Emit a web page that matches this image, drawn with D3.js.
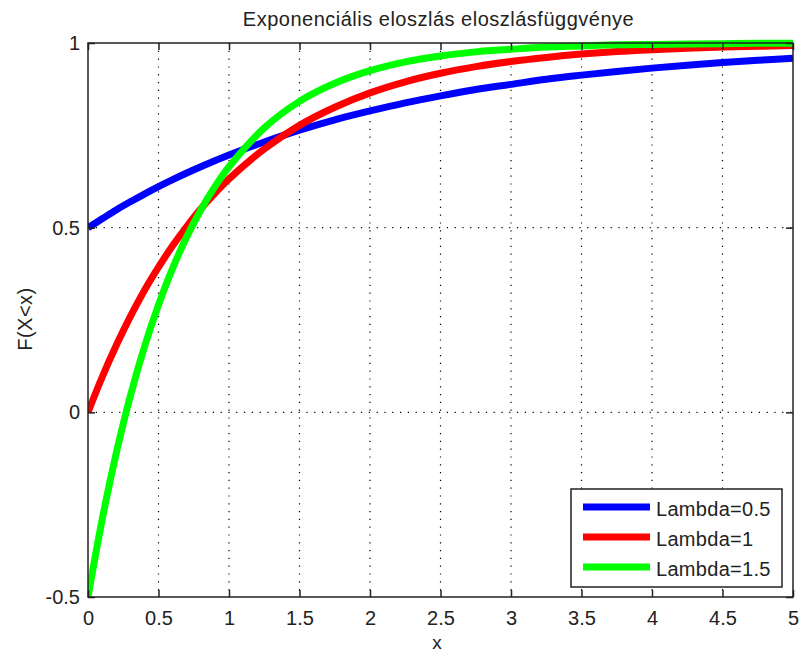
<!DOCTYPE html>
<html>
<head>
<meta charset="utf-8">
<script src="https://cdn.jsdelivr.net/npm/d3@7"></script>
<style>
  html, body { margin: 0; padding: 0; background: #fff; }
  svg { display: block; }
  text { font-family: "Liberation Sans", Arial, sans-serif; fill: #222; }
</style>
</head>
<body>
<svg id="chart" width="799" height="652"></svg>
<script>
// Sample points of the three CDF curves
const xs = [0, 0.1, 0.2, 0.3, 0.4, 0.5, 0.6, 0.7, 0.8, 0.9, 1,
            1.25, 1.5, 1.75, 2, 2.25, 2.5, 2.75, 3, 3.25, 3.5, 3.75, 4, 4.25, 4.5, 4.75, 5];
const lambda05 = [0.5, 0.524, 0.548, 0.570, 0.591, 0.611, 0.630, 0.648, 0.665, 0.681, 0.697,
                  0.732, 0.764, 0.792, 0.816, 0.838, 0.857, 0.874, 0.888, 0.902, 0.913, 0.923, 0.932, 0.940, 0.947, 0.953, 0.959];
const lambda1  = [0, 0.095, 0.181, 0.259, 0.330, 0.393, 0.451, 0.503, 0.551, 0.593, 0.632,
                  0.713, 0.777, 0.826, 0.865, 0.895, 0.918, 0.936, 0.950, 0.961, 0.970, 0.977, 0.982, 0.986, 0.989, 0.991, 0.993];
const lambda15 = [-0.5, -0.291, -0.111, 0.044, 0.177, 0.291, 0.390, 0.475, 0.548, 0.611, 0.665,
                  0.770, 0.842, 0.891, 0.925, 0.949, 0.965, 0.976, 0.983, 0.989, 0.992, 0.995, 0.996, 0.997, 0.998, 0.999, 0.999];

const seriesNames = ["Lambda=0.5", "Lambda=1", "Lambda=1.5"];
const seriesColors = ["#0000ff", "#ff0000", "#00ff00"];
const seriesValues = [lambda05, lambda1, lambda15];

const xTicks = [0, 0.5, 1, 1.5, 2, 2.5, 3, 3.5, 4, 4.5, 5];
const yTicks = [-0.5, 0, 0.5, 1];

const titleText = "Exponenciális eloszlás eloszlásfüggvénye";
const xLabel = "x";
const yLabel = "F(X<x)";

const svg = d3.select("#chart");
const pLeft = 88, pRight = 793, pTop = 43, pBottom = 597;

const x = d3.scaleLinear().domain([0, 5]).range([pLeft, pRight]);
const y = d3.scaleLinear().domain([-0.5, 1]).range([pBottom, pTop]);

// Plain hyphen for negatives, no trailing zeros
const fmt = d => String(d);

// Dotted grid
const grid = svg.append("g").attr("stroke", "#000").attr("stroke-width", 1.2)
  .attr("stroke-dasharray", "1.2,6.6");
grid.selectAll("line.gx").data(xTicks.slice(1, -1)).join("line").attr("class", "gx")
  .attr("x1", d => x(d)).attr("x2", d => x(d)).attr("y1", pTop).attr("y2", pBottom);
grid.selectAll("line.gy").data(yTicks.slice(1, -1)).join("line").attr("class", "gy")
  .attr("x1", pLeft).attr("x2", pRight).attr("y1", d => y(d)).attr("y2", d => y(d));

// Curves
svg.append("defs").append("clipPath").attr("id", "plotclip")
  .append("rect").attr("x", pLeft).attr("y", pTop - 4).attr("width", pRight - pLeft).attr("height", pBottom - pTop + 8);

const line = d3.line().x((d, i) => x(xs[i])).y(d => y(d)).curve(d3.curveCatmullRom.alpha(0.5));
svg.append("g").attr("clip-path", "url(#plotclip)")
  .selectAll("path").data(seriesValues).join("path")
  .attr("d", d => line(d))
  .attr("fill", "none")
  .attr("stroke", (d, i) => seriesColors[i])
  .attr("stroke-width", 7)
  .attr("stroke-linejoin", "round");

// Axes: ticks pointing inward on all four sides
const axisBottom = d3.axisBottom(x).tickValues(xTicks).tickSizeInner(-7).tickSizeOuter(0)
  .tickFormat(fmt).tickPadding(14);
const axisTop = d3.axisTop(x).tickValues(xTicks).tickSizeInner(-7).tickSizeOuter(0).tickFormat("");
const axisLeft = d3.axisLeft(y).tickValues(yTicks).tickSizeInner(-7).tickSizeOuter(0)
  .tickFormat(fmt).tickPadding(8);
const axisRight = d3.axisRight(y).tickValues(yTicks).tickSizeInner(-7).tickSizeOuter(0).tickFormat("");

function styleAxis(g) {
  g.select(".domain").remove();
  g.selectAll(".tick line").attr("stroke", "#222").attr("stroke-width", 1.5);
  g.selectAll(".tick text").attr("font-size", 20).attr("fill", "#222")
    .attr("font-family", "'Liberation Sans', Arial, sans-serif");
}
svg.append("g").attr("transform", `translate(0,${pBottom})`).call(axisBottom).call(styleAxis);
svg.append("g").attr("transform", `translate(0,${pTop})`).call(axisTop).call(styleAxis);
svg.append("g").attr("transform", `translate(${pLeft},0)`).call(axisLeft).call(styleAxis);
svg.append("g").attr("transform", `translate(${pRight},0)`).call(axisRight).call(styleAxis);

// Plot box
svg.append("rect").attr("x", pLeft).attr("y", pTop).attr("width", pRight - pLeft).attr("height", pBottom - pTop)
  .attr("fill", "none").attr("stroke", "#222").attr("stroke-width", 1.5);

// Title and axis labels
svg.append("text").attr("x", (pLeft + pRight) / 2 - 2).attr("y", 26).attr("text-anchor", "middle")
  .attr("font-size", 20).attr("letter-spacing", 0.5).text(titleText);
svg.append("text").attr("x", 437).attr("y", 649).attr("text-anchor", "middle")
  .attr("font-size", 19).text(xLabel);
svg.append("text").attr("transform", `translate(32,${(pTop + pBottom) / 2 - 1}) rotate(-90)`)
  .attr("text-anchor", "middle").attr("font-size", 20).attr("letter-spacing", 0.5).text(yLabel);

// Legend
const lg = svg.append("g");
lg.append("rect").attr("x", 571).attr("y", 489).attr("width", 211).attr("height", 98)
  .attr("fill", "#fff").attr("stroke", "#222").attr("stroke-width", 1.5);
const rows = lg.selectAll("g.row").data(seriesNames).join("g").attr("class", "row")
  .attr("transform", (d, i) => `translate(0,${507 + i * 30})`);
rows.append("line").attr("x1", 583).attr("x2", 650).attr("y1", 0).attr("y2", 0)
  .attr("stroke", (d, i) => seriesColors[i]).attr("stroke-width", 7);
rows.append("text").attr("x", 656).attr("y", 9).attr("font-size", 20).attr("letter-spacing", 0.3).text(d => d);
</script>
</body>
</html>
